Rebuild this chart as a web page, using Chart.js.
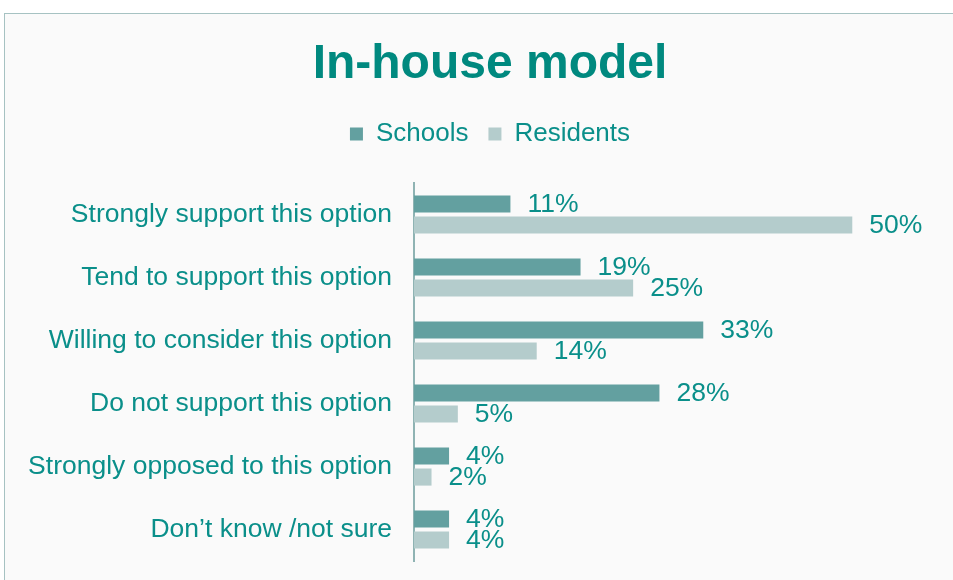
<!DOCTYPE html>
<html>
<head>
<meta charset="utf-8">
<script src="https://cdn.jsdelivr.net/npm/chart.js@4"></script>
<style>
  html, body { margin: 0; padding: 0; background: #ffffff; overflow: hidden; }
  #frame {
    position: absolute; left: 4px; top: 13px;
    width: 970px; height: 580px;
    border-top: 1px solid #a6c2c2; border-left: 1px solid #a6c2c2;
    background: #fafafa;
  }
</style>
</head>
<body>
<div id="frame"><canvas id="chart" width="970" height="567"></canvas></div>
<script>
const categories = [
    'Strongly support this option',
    'Tend to support this option',
    'Willing to consider this option',
    'Do not support this option',
    'Strongly opposed to this option',
    'Don\u2019t know /not sure'
];
const schools = [11, 19, 33, 28, 4, 4];
const residents = [50, 25, 14, 5, 2, 4];

const teal = '#0a8f8a';
const fontFamily = '"Liberation Sans", Arial, sans-serif';

// draws the "11%" style labels just past the end of each bar
const barLabels = {
    id: 'barLabels',
    afterDatasetsDraw(chart) {
        const ctx = chart.ctx;
        ctx.save();
        ctx.font = '26.5px ' + fontFamily;
        ctx.fillStyle = teal;
        ctx.textAlign = 'left';
        ctx.textBaseline = 'middle';
        chart.data.datasets.forEach((ds, i) => {
            chart.getDatasetMeta(i).data.forEach((bar, j) => {
                ctx.fillText(ds.data[j] + '%', bar.x + 17, bar.y + 1);
            });
        });
        ctx.restore();
    }
};

// extra room under the legend
const legendGap = {
    id: 'legendGap',
    beforeInit(chart) {
        const fit = chart.legend.fit;
        chart.legend.fit = function () {
            fit.bind(chart.legend)();
            this.height += 26;
        };
    }
};

new Chart(document.getElementById('chart'), {
    type: 'bar',
    data: {
        labels: categories,
        datasets: [
            { label: 'Schools', data: schools, backgroundColor: '#63a0a0', categoryPercentage: 0.67, barPercentage: 0.81 },
            { label: 'Residents', data: residents, backgroundColor: '#b4cccc', categoryPercentage: 0.67, barPercentage: 0.81 }
        ]
    },
    options: {
        indexAxis: 'y',
        responsive: false,
        animation: false,
        layout: { padding: { left: 0, right: 0, bottom: 20 } },
        plugins: {
            title: {
                display: true,
                text: 'In-house model',
                color: '#00897f',
                font: { family: fontFamily, size: 48, weight: 'bold', lineHeight: 1 },
                padding: { top: 27, bottom: 12 }
            },
            legend: {
                labels: {
                    color: teal,
                    font: { family: fontFamily, size: 26 },
                    boxWidth: 13,
                    boxHeight: 13,
                    padding: 20
                }
            },
            tooltip: { enabled: false }
        },
        scales: {
            x: { display: false, min: 0, max: 64 },
            y: {
                grid: { display: false, drawTicks: false },
                border: { display: true, color: '#8fb3b3', width: 2 },
                ticks: {
                    color: teal,
                    font: { family: fontFamily, size: 26.5 },
                    padding: 22
                },
                afterFit(scale) {
                    scale.width = 409;
                    scale.paddingTop = 0;
                    scale.paddingBottom = 0;
                }
            }
        }
    },
    plugins: [barLabels, legendGap]
});
</script>
</body>
</html>
